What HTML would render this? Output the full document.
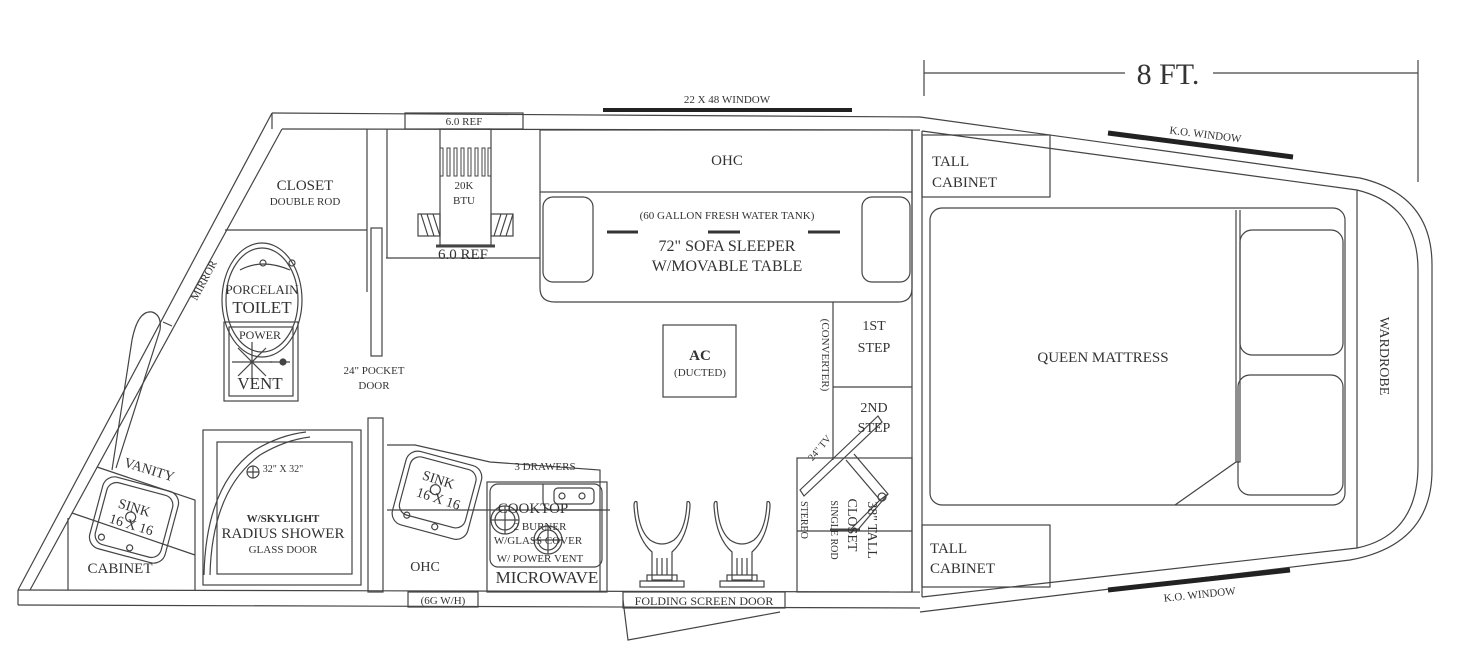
<!DOCTYPE html>
<html><head><meta charset="utf-8"><style>
html,body{margin:0;padding:0;background:#fff;}
svg{display:block;}
text{font-family:"Liberation Serif",serif;fill:#333;}
</style></head><body>
<svg width="1483" height="646" viewBox="0 0 1483 646" xmlns="http://www.w3.org/2000/svg">
<g fill="none" stroke="#444" stroke-width="1.2">
<line x1="924" y1="73" x2="1125" y2="73"/><line x1="1213" y1="73" x2="1418" y2="73"/>
<line x1="924" y1="60" x2="924" y2="96"/><line x1="1418" y1="60" x2="1418" y2="182"/>
<line x1="272" y1="113" x2="920" y2="117"/>
<line x1="282" y1="129" x2="920" y2="130"/>
<line x1="272" y1="113" x2="272" y2="129"/>
<path d="M920 117 L1360 178 Q1432 195 1432 265 L1432 470 Q1432 545 1350 560 L920 612"/>
<path d="M922 131 L1357 190 Q1418 205 1418 270 L1418 465 Q1418 535 1357 548 L922 597"/>
<line x1="272" y1="113" x2="18" y2="590"/>
<line x1="282" y1="129" x2="30" y2="590"/>
<line x1="18" y1="590" x2="920" y2="592"/>
<line x1="18" y1="605" x2="920" y2="608"/>
<line x1="18" y1="590" x2="18" y2="605"/>
<line x1="912" y1="130" x2="912" y2="592"/><line x1="922" y1="131" x2="922" y2="597"/>
<rect x="405" y="113" width="118" height="16"/>
<rect x="408" y="592" width="70" height="15"/>
<rect x="623" y="592" width="162" height="16"/>
<path d="M623 600 L628 640 L780 612"/>
<rect x="922" y="135" width="128" height="62"/>
<rect x="922" y="525" width="128" height="62"/>
<rect x="930" y="208" width="415" height="297" rx="12"/>
<path d="M1236 210 L1236 462 L1240 462 L1240 210"/>
<path d="M1236 462 L1175 505"/>
<rect x="1240" y="230" width="103" height="125" rx="12"/>
<rect x="1238" y="375" width="105" height="120" rx="12"/>
<line x1="1357" y1="190" x2="1357" y2="548"/>
<rect x="540" y="130" width="372" height="62"/>
<path d="M540 192 L540 288 Q540 302 555 302 L898 302 Q912 302 912 288 L912 192"/>
<rect x="543" y="197" width="50" height="85" rx="10"/>
<rect x="862" y="197" width="48" height="85" rx="10"/>
<rect x="663" y="325" width="73" height="72"/>
<line x1="833" y1="302" x2="833" y2="460"/>
<line x1="833" y1="387" x2="912" y2="387"/>
<rect x="797" y="458" width="115" height="134"/>
<line x1="797" y1="531" x2="912" y2="531"/>
<path d="M800 490 L878 416 L882 422 L804 496 Z"/>
<path d="M846 460 L880 500 L888 494 L854 454"/>
<path d="M880 500 L850 530 M888 494 L856 532"/>
<circle cx="882" cy="497" r="4"/>
<line x1="830" y1="530" x2="860" y2="530" stroke-width="3"/>
<rect x="440" y="129" width="51" height="116"/>
<line x1="436" y1="246" x2="495" y2="246" stroke-width="3"/>
<rect x="418" y="214" width="22" height="22"/><rect x="491" y="214" width="22" height="22"/>
<path d="M421 214 L428 236 M427 214 L434 236 M433 214 L440 236 M494 236 L501 214 M500 236 L507 214 M506 236 L513 214"/>
<g stroke-width="1">
<rect x="440" y="148" width="3" height="28"/><rect x="447" y="148" width="3" height="28"/><rect x="454" y="148" width="3" height="28"/><rect x="461" y="148" width="3" height="28"/><rect x="468" y="148" width="3" height="28"/><rect x="475" y="148" width="3" height="28"/><rect x="482" y="148" width="3" height="28"/><rect x="488" y="148" width="3" height="28"/>
</g>
<line x1="386" y1="258" x2="540" y2="258"/>
<line x1="367" y1="129" x2="367" y2="292"/><line x1="387" y1="129" x2="387" y2="258"/>
<rect x="371" y="228" width="11" height="128"/>
<rect x="368" y="418" width="15" height="174"/>
<line x1="225" y1="230" x2="367" y2="230"/>
<ellipse cx="262" cy="300" rx="40" ry="57"/>
<ellipse cx="262" cy="300" rx="36" ry="52"/>
<circle cx="263" cy="263" r="3"/><circle cx="292" cy="263" r="3"/>
<path d="M240 270 Q262 258 290 270"/>
<rect x="224" y="322" width="74" height="79"/><rect x="229" y="327" width="64" height="69"/>
<path d="M232 362 L272 362 M252 342 L252 382 M238 348 L266 376 M266 348 L238 376"/>
<line x1="270" y1="362" x2="290" y2="362"/><circle cx="283" cy="362" r="3" fill="#444"/>
<path d="M112 470 L132 340 Q138 310 152 312 Q162 315 160 330 L116 468"/>
<line x1="163" y1="322" x2="172" y2="326"/>
<path d="M97 467 L195 500 L195 590"/>
<line x1="68" y1="518" x2="68" y2="590"/>
<line x1="72" y1="513" x2="195" y2="555"/>
<g transform="rotate(15 134 520)">
<rect x="95" y="483" width="78" height="74" rx="12"/><rect x="100" y="488" width="68" height="64" rx="10"/>
<circle cx="130" cy="518" r="5"/><circle cx="107" cy="545" r="3"/><circle cx="137" cy="548" r="3"/>
</g>
<rect x="203" y="430" width="158" height="155"/>
<rect x="217" y="442" width="135" height="132"/>
<path d="M210 575 Q212 490 260 455 Q285 440 310 437"/>
<path d="M204 575 Q206 485 255 450 Q280 435 306 432"/>
<circle cx="253" cy="472" r="6"/><path d="M247 472 H259 M253 466 V478"/>
<path d="M387 445 L415 445 L490 462 L600 470 L600 592"/>
<line x1="387" y1="510" x2="610" y2="510"/>
<g transform="rotate(15 436 495)">
<rect x="398" y="457" width="78" height="76" rx="12"/><rect x="403" y="462" width="68" height="60" rx="10"/>
<circle cx="434" cy="490" r="5"/><circle cx="413" cy="522" r="3"/><circle cx="443" cy="526" r="3"/>
</g>
<rect x="487" y="482" width="120" height="110"/>
<rect x="490" y="484" width="112" height="83" rx="8"/>
<path d="M543 484 L543 500 Q543 510 553 510 L602 510"/>
<rect x="554" y="488" width="40" height="16" rx="4"/><circle cx="562" cy="496" r="3"/><circle cx="582" cy="496" r="3"/>
<circle cx="505" cy="520" r="14"/><circle cx="505" cy="520" r="10"/><path d="M491 520 H519 M505 506 V534"/>
<circle cx="548" cy="540" r="14"/><circle cx="548" cy="540" r="10"/><path d="M534 540 H562 M548 526 V554"/>
<!-- chairs -->
<g id="ch">
<path d="M637 502 Q634 500 634 506 Q636 538 652 552 L652 580 L672 580 L672 552 Q688 538 690 506 Q690 500 687 502 Q686 530 674 540 Q662 548 650 540 Q638 530 637 502 Z"/>
<path d="M657 558 L657 575 M662 558 L662 575 M667 558 L667 575"/>
<rect x="647" y="575" width="30" height="6"/><rect x="640" y="581" width="44" height="6"/>
</g>
<use href="#ch" transform="translate(80 0)"/>
</g>
<line x1="603" y1="110" x2="852" y2="110" stroke="#222" stroke-width="4"/>
<line x1="1108" y1="133" x2="1293" y2="157" stroke="#222" stroke-width="5"/>
<line x1="1108" y1="590" x2="1290" y2="570" stroke="#222" stroke-width="5"/>
<line x1="607" y1="232" x2="638" y2="232" stroke="#333" stroke-width="3"/>
<line x1="708" y1="232" x2="740" y2="232" stroke="#333" stroke-width="3"/>
<line x1="808" y1="232" x2="840" y2="232" stroke="#333" stroke-width="3"/>
<text x="1168" y="84" font-size="30" text-anchor="middle" fill="#111">8 FT.</text>
<text x="727" y="103" font-size="11" text-anchor="middle">22 X 48 WINDOW</text>
<text x="464" y="125" font-size="11" text-anchor="middle">6.0 REF</text>
<text x="1205" y="138" font-size="11" text-anchor="middle" transform="rotate(7 1205 138)">K.O. WINDOW</text>
<text x="1200" y="598" font-size="11" text-anchor="middle" transform="rotate(-6 1200 598)">K.O. WINDOW</text>
<text x="932" y="166" font-size="15">TALL</text><text x="932" y="187" font-size="15">CABINET</text>
<text x="930" y="553" font-size="15">TALL</text><text x="930" y="573" font-size="15">CABINET</text>
<text x="1103" y="362" font-size="15" text-anchor="middle">QUEEN MATTRESS</text>
<text x="1380" y="356" font-size="14" text-anchor="middle" transform="rotate(90 1380 356)">WARDROBE</text>
<text x="727" y="165" font-size="15" text-anchor="middle">OHC</text>
<text x="727" y="219" font-size="11" text-anchor="middle">(60 GALLON FRESH WATER TANK)</text>
<text x="727" y="251" font-size="16" text-anchor="middle">72" SOFA SLEEPER</text>
<text x="727" y="271" font-size="16" text-anchor="middle">W/MOVABLE TABLE</text>
<text x="464" y="189" font-size="11" text-anchor="middle">20K</text><text x="464" y="204" font-size="11" text-anchor="middle">BTU</text>
<text x="463" y="259" font-size="15" text-anchor="middle">6.0 REF</text>
<text x="305" y="190" font-size="15" text-anchor="middle">CLOSET</text>
<text x="305" y="205" font-size="11" text-anchor="middle">DOUBLE ROD</text>
<text x="207" y="282" font-size="11" text-anchor="middle" transform="rotate(-62 207 282)">MIRROR</text>
<text x="262" y="294" font-size="13" text-anchor="middle">PORCELAIN</text>
<text x="262" y="313" font-size="17" text-anchor="middle">TOILET</text>
<text x="260" y="339" font-size="12" text-anchor="middle">POWER</text>
<text x="260" y="389" font-size="17" text-anchor="middle">VENT</text>
<text x="374" y="374" font-size="11" text-anchor="middle">24" POCKET</text>
<text x="374" y="389" font-size="11" text-anchor="middle">DOOR</text>
<text x="700" y="360" font-size="15" font-weight="bold" text-anchor="middle">AC</text>
<text x="700" y="376" font-size="11" text-anchor="middle">(DUCTED)</text>
<text x="822" y="355" font-size="11" text-anchor="middle" transform="rotate(90 822 355)">(CONVERTER)</text>
<text x="874" y="330" font-size="14" text-anchor="middle">1ST</text><text x="874" y="352" font-size="14" text-anchor="middle">STEP</text>
<text x="874" y="412" font-size="14" text-anchor="middle">2ND</text><text x="874" y="432" font-size="14" text-anchor="middle">STEP</text>
<text x="822" y="450" font-size="10" text-anchor="middle" transform="rotate(-50 822 450)">24" TV</text>
<text x="801" y="520" font-size="10" text-anchor="middle" transform="rotate(90 801 520)">STEREO</text>
<text x="831" y="530" font-size="10" text-anchor="middle" transform="rotate(90 831 530)">SINGLE ROD</text>
<text x="848" y="525" font-size="14" text-anchor="middle" transform="rotate(90 848 525)">CLOSET</text>
<text x="868" y="530" font-size="14" text-anchor="middle" transform="rotate(90 868 530)">38" TALL</text>
<text x="545" y="470" font-size="11" text-anchor="middle">3 DRAWERS</text>
<text x="533" y="513" font-size="15" text-anchor="middle">COOKTOP</text>
<text x="540" y="530" font-size="11" text-anchor="middle">2 BURNER</text>
<text x="538" y="544" font-size="11" text-anchor="middle">W/GLASS COVER</text>
<text x="540" y="562" font-size="11" text-anchor="middle">W/ POWER VENT</text>
<text x="547" y="583" font-size="17" text-anchor="middle">MICROWAVE</text>
<text x="425" y="571" font-size="14" text-anchor="middle">OHC</text>
<text x="437" y="484" font-size="14" text-anchor="middle" transform="rotate(18 437 484)">SINK</text>
<text x="437" y="503" font-size="14" text-anchor="middle" transform="rotate(18 437 503)">16 X 16</text>
<text x="443" y="604" font-size="11" text-anchor="middle">(6G W/H)</text>
<text x="704" y="605" font-size="12" text-anchor="middle">FOLDING SCREEN DOOR</text>
<text x="283" y="472" font-size="10" text-anchor="middle">32" X 32"</text>
<text x="283" y="522" font-size="11" font-weight="bold" text-anchor="middle">W/SKYLIGHT</text>
<text x="283" y="538" font-size="15" text-anchor="middle">RADIUS SHOWER</text>
<text x="283" y="553" font-size="11" text-anchor="middle">GLASS DOOR</text>
<text x="148" y="474" font-size="14" text-anchor="middle" transform="rotate(17 148 474)">VANITY</text>
<text x="133" y="512" font-size="14" text-anchor="middle" transform="rotate(17 133 512)">SINK</text>
<text x="130" y="529" font-size="14" text-anchor="middle" transform="rotate(17 130 529)">16 X 16</text>
<text x="120" y="573" font-size="15" text-anchor="middle">CABINET</text>
</svg>
</body></html>
